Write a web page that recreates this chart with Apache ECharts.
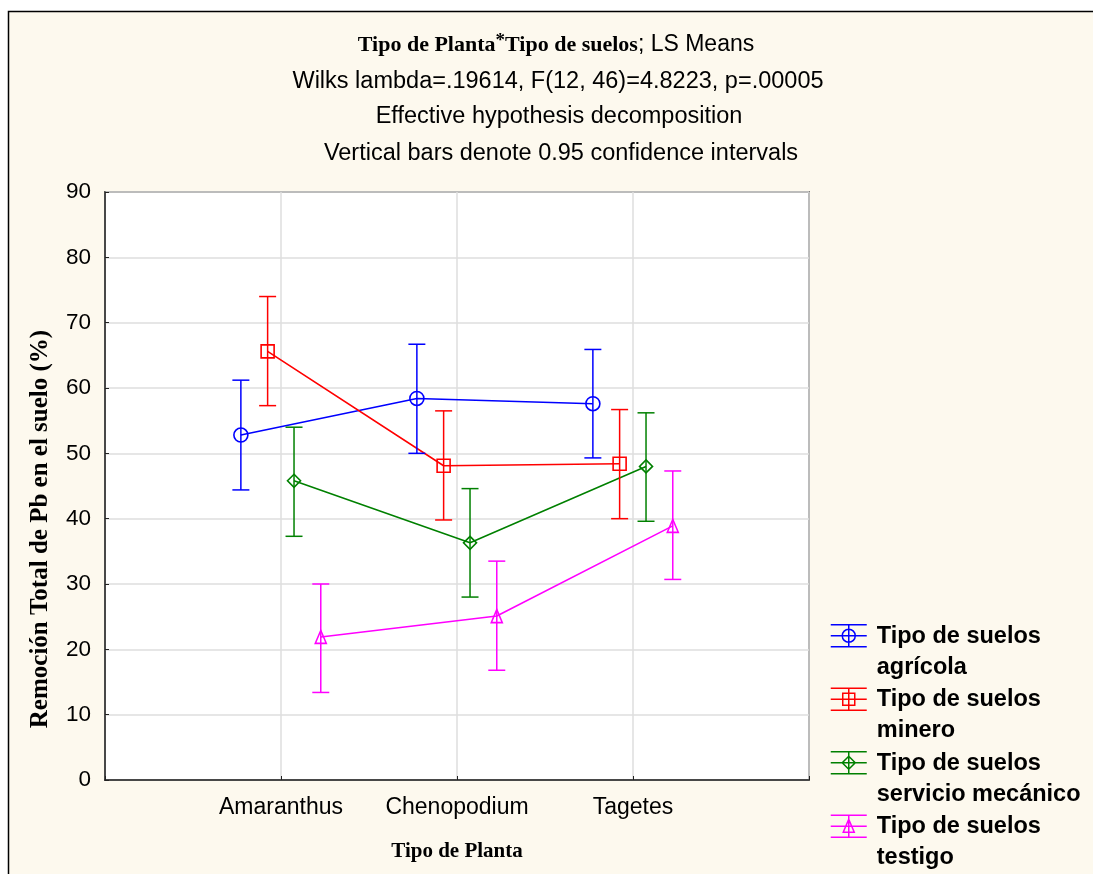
<!DOCTYPE html>
<html><head><meta charset="utf-8">
<script src="https://cdn.jsdelivr.net/npm/echarts@6/dist/echarts.min.js"></script>
<style>html,body{margin:0;padding:0;background:#fff}#c{width:1093px;height:874px}</style>
</head><body><div id="c"></div>
<script>
// ---- data ----
const plants = ['Amaranthus', 'Chenopodium', 'Tagetes'];
const soils = ['Tipo de suelos agrícola', 'Tipo de suelos minero', 'Tipo de suelos servicio mecánico', 'Tipo de suelos testigo'];
const agricolaMean = [52.8, 58.4, 57.6];
const agricolaLow  = [44.4, 50.0, 49.3];
const agricolaHigh = [61.2, 66.7, 65.9];
const mineroMean = [65.6, 48.1, 48.4];
const mineroLow  = [57.3, 39.8, 40.0];
const mineroHigh = [74.0, 56.5, 56.7];
const servicioMean = [45.8, 36.3, 48.0];
const servicioLow  = [37.3, 28.0, 39.6];
const servicioHigh = [54.0, 44.6, 56.2];
const testigoMean = [21.9, 25.1, 38.9];
const testigoLow  = [13.4, 16.8, 30.7];
const testigoHigh = [30.0, 33.5, 47.3];
const yTicks = [0, 10, 20, 30, 40, 50, 60, 70, 80, 90];
const titleLines = [
  'Wilks lambda=.19614, F(12, 46)=4.8223, p=.00005',
  'Effective hypothesis decomposition',
  'Vertical bars denote 0.95 confidence intervals'
];

// ---- style ----
const colors = ['#0000ff', '#ff0000', '#008000', '#ff00ff'];
const offsets = [-0.228, -0.076, 0.074, 0.226];
const SANS = '"Liberation Sans", Arial, sans-serif';
const SERIF = '"Liberation Serif", "Times New Roman", serif';
const means = [agricolaMean, mineroMean, servicioMean, testigoMean];
const lows = [agricolaLow, mineroLow, servicioLow, testigoLow];
const highs = [agricolaHigh, mineroHigh, servicioHigh, testigoHigh];
const symbols = [
  'circle',
  'rect',
  'path://M0,-1 L1,0 L0,1 L-1,0 Z',
  'path://M0,-1.1 L0.85,1 L-0.85,1 Z'
];
const symbolSizes = [14, 13, 13, [11, 13]];

function legendIcon(i) {
  const cy = 15, L = 36, cx = 18, c = 11;
  let p = `M0 0 M41 62 M0 ${cy - c} L${L} ${cy - c} M0 ${cy} L${L} ${cy} M0 ${cy + c} L${L} ${cy + c} M${cx} ${cy - c} L${cx} ${cy + c} `;
  if (i === 0) p += `M${cx + 6.5} ${cy} A6.5 6.5 0 1 1 ${cx - 6.5} ${cy} A6.5 6.5 0 1 1 ${cx + 6.5} ${cy} Z`;
  if (i === 1) p += `M${cx - 6} ${cy - 6} L${cx + 6} ${cy - 6} L${cx + 6} ${cy + 6} L${cx - 6} ${cy + 6} Z`;
  if (i === 2) p += `M${cx} ${cy - 6.5} L${cx + 6.5} ${cy} L${cx} ${cy + 6.5} L${cx - 6.5} ${cy} Z`;
  if (i === 3) p += `M${cx} ${cy - 7} L${cx + 5.5} ${cy + 6} L${cx - 5.5} ${cy + 6} Z`;
  return 'path://' + p;
}

const series = [];
soils.forEach((name, i) => {
  series.push({
    name, type: 'line',
    data: plants.map((_, k) => [k + 1 + offsets[i], means[i][k]]),
    symbol: symbols[i], symbolSize: symbolSizes[i],
    itemStyle: { color: 'rgba(0,0,0,0)', borderColor: colors[i], borderWidth: 1.6 },
    lineStyle: { color: colors[i], width: 1.6 },
    z: 3
  });
  series.push({
    name, type: 'custom',
    data: plants.map((_, k) => [k + 1 + offsets[i], lows[i][k], highs[i][k]]),
    encode: { x: 0, y: [1, 2] },
    z: 4,
    renderItem(params, api) {
      const x = api.value(0);
      const p1 = api.coord([x, api.value(1)]);
      const p2 = api.coord([x, api.value(2)]);
      const w = 8.5;
      const st = { stroke: colors[i], lineWidth: 1.5, fill: null };
      return { type: 'group', children: [
        { type: 'line', shape: { x1: p1[0], y1: p1[1], x2: p2[0], y2: p2[1] }, style: st },
        { type: 'line', shape: { x1: p1[0] - w, y1: p1[1], x2: p1[0] + w, y2: p1[1] }, style: st },
        { type: 'line', shape: { x1: p2[0] - w, y1: p2[1], x2: p2[0] + w, y2: p2[1] }, style: st }
      ] };
    }
  });
});

const titleFont = { fontFamily: SANS, fontSize: 23.5, fontWeight: 'normal', color: '#000', lineHeight: 26 };
const option = {
  backgroundColor: '#ffffff',
  animation: false,
  graphic: [{
    type: 'rect', z: -100,
    shape: { x: 8.5, y: 11.5, width: 1200, height: 1000 },
    style: { fill: '#fdf9ee', stroke: '#000', lineWidth: 1.5 }
  }],
  title: [
    { text: '{b|Tipo de Planta}{s|*}{b|Tipo de suelos}{n|; LS Means}', left: 556, top: 32, textAlign: 'center', padding: 0,
      textStyle: { fontWeight: 'normal', rich: {
        b: { fontFamily: SERIF, fontWeight: 'bold', fontSize: 22, color: '#000', lineHeight: 26 },
        s: { fontFamily: SERIF, fontWeight: 'bold', fontSize: 19, color: '#000', lineHeight: 26, verticalAlign: 'top' },
        n: { fontFamily: SANS, fontWeight: 'normal', fontSize: 23, color: '#000', lineHeight: 26 }
      } } },
    { text: titleLines[0], left: 558, top: 69, textAlign: 'center', padding: 0, textStyle: titleFont },
    { text: titleLines[1], left: 559, top: 104, textAlign: 'center', padding: 0, textStyle: titleFont },
    { text: titleLines[2], left: 561, top: 141, textAlign: 'center', padding: 0, textStyle: titleFont }
  ],
  legend: {
    orient: 'vertical', left: 830, top: 620, itemGap: 0, itemWidth: 41, itemHeight: 62,
    selectedMode: false, padding: 0,
    data: soils.map((s, i) => ({ name: s, icon: legendIcon(i),
      itemStyle: { color: 'rgba(0,0,0,0)', borderColor: colors[i], borderWidth: 1.5 } })),
    formatter: n => n.replace('suelos ', 'suelos\n'),
    textStyle: { fontFamily: SANS, fontSize: 23.5, fontWeight: 'bold', color: '#000', lineHeight: 31 }
  },
  grid: { left: 105, right: 284, top: 192, bottom: 94, show: true, backgroundColor: '#ffffff',
    borderColor: '#222', borderWidth: 1.5 },
  xAxis: {
    type: 'value', min: 0, max: plants.length + 1, interval: 1,
    name: 'Tipo de Planta', nameLocation: 'middle', nameGap: 61,
    nameTextStyle: { fontFamily: SERIF, fontWeight: 'bold', fontSize: 21, color: '#000' },
    axisLine: { lineStyle: { color: '#222', width: 1.5 } },
    axisTick: { inside: true, length: 4, lineStyle: { color: '#222' } },
    axisLabel: { margin: 16, fontFamily: SANS, fontSize: 23, color: '#000',
      formatter: v => plants[v - 1] || '' },
    splitLine: { show: true, lineStyle: { color: '#dedede', width: 1.5 } }
  },
  yAxis: {
    type: 'value', min: yTicks[0], max: yTicks[yTicks.length - 1], interval: yTicks[1] - yTicks[0],
    name: 'Remoción Total de Pb en el suelo (%)', nameLocation: 'middle', nameGap: 52, nameRotate: 90,
    nameTextStyle: { fontFamily: SERIF, fontWeight: 'bold', fontSize: 25, color: '#000', padding: [0, 86, 0, 0] },
    axisLine: { lineStyle: { color: '#222', width: 1.5 } },
    axisTick: { inside: true, length: 4, lineStyle: { color: '#222' } },
    axisLabel: { margin: 14, fontFamily: SANS, fontSize: 22.5, color: '#000' },
    splitLine: { show: true, lineStyle: { color: '#dedede', width: 1.5 } }
  },
  series
};
const chart = echarts.init(document.getElementById('c'), null, { renderer: 'canvas' });
chart.setOption(option);
</script>
</body></html>
